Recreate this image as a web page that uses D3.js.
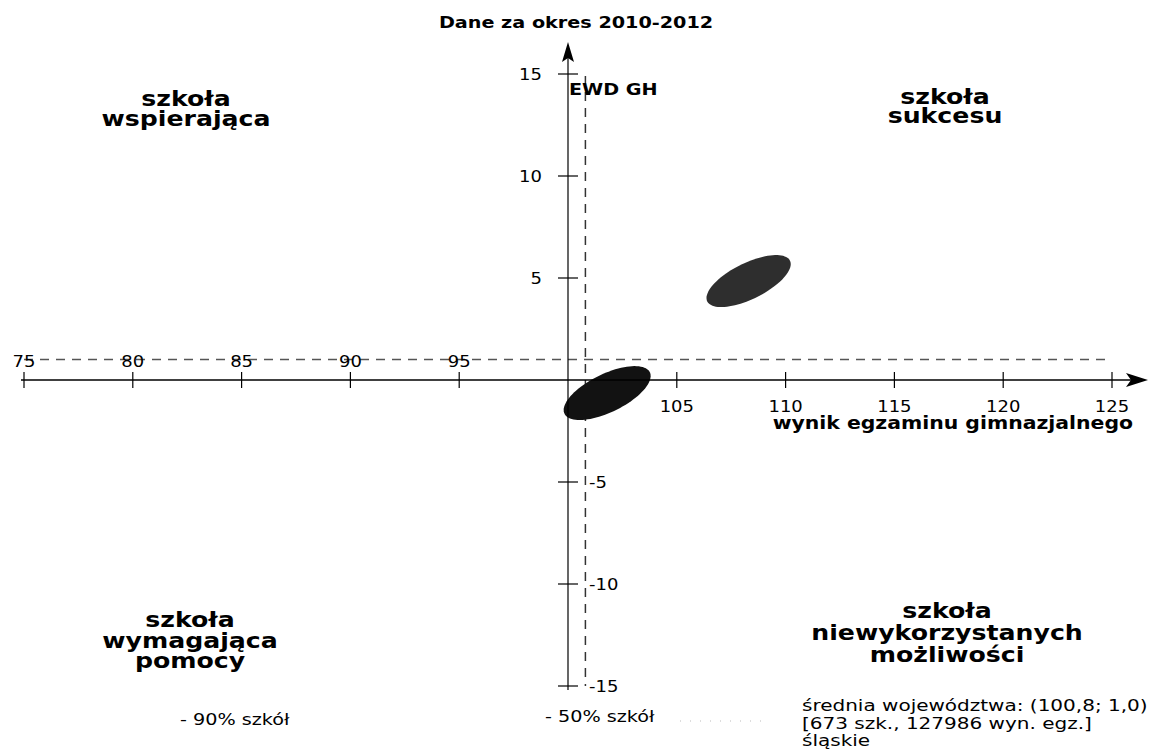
<!DOCTYPE html>
<html><head><meta charset="utf-8">
<script src="https://cdn.jsdelivr.net/npm/d3@7"></script>
<style>body{margin:0;background:#fff}svg{display:block}</style>
</head><body>
<svg id="c" width="1157" height="756"></svg>
<script>
// ---- data ----
const titleText = "Dane za okres 2010-2012";
const yAxisTitle = "EWD GH";
const xAxisTitle = "wynik egzaminu gimnazjalnego";
const xDomain = [75, 125];
const yDomain = [-15, 15];
const xTicksLeft = [75, 80, 85, 90, 95];
const xTicksRight = [105, 110, 115, 120, 125];
const yTicksPos = [5, 10, 15];
const yTicksNeg = [-5, -10, -15];
const meanX = 100.8;
const meanY = 1.0;
const ellipseCx = [101.8, 108.3];
const ellipseCy = [-0.64, 4.85];
const ellipseMajor = [[1.96, 1.02], [1.90, 1.00]];
const ellipseMinor = [[0.39, -0.84], [0.37, -0.79]];
const quadrantTL = ["szkoła", "wspierająca"];
const quadrantTR = ["szkoła", "sukcesu"];
const quadrantBL = ["szkoła", "wymagająca", "pomocy"];
const quadrantBR = ["szkoła", "niewykorzystanych", "możliwości"];
const legendLabels = ["- 90% szkół", "- 50% szkół"];
const meanInfo = ["średnia województwa: (100,8; 1,0)", "[673 szk., 127986 wyn. egz.]", "śląskie"];

// ---- drawing ----
const svg = d3.select("#c");
const FONT = "DejaVu Sans";
const SX = 1.2;
const x = d3.scaleLinear().domain(xDomain).range([24, 1112]);
const y = d3.scaleLinear().domain(yDomain).range([686, 74]);
const x0 = x(100), y0 = y(0);

function txt(px, py, s, size, weight, anchor, sx) {
  return svg.append("text")
    .attr("transform", `translate(${px},${py}) scale(${sx || SX},1)`)
    .attr("font-family", FONT).attr("font-size", size)
    .attr("font-weight", weight || "normal")
    .attr("text-anchor", anchor || "start")
    .attr("fill", "#000").text(s);
}

// dashed mean lines
svg.append("line").attr("x1", x(75)).attr("x2", x(125))
  .attr("y1", y(meanY)).attr("y2", y(meanY))
  .attr("stroke", "#555").attr("stroke-width", 1.5).attr("stroke-dasharray", "9,7");
svg.append("line").attr("x1", x(meanX)).attr("x2", x(meanX))
  .attr("y1", y(15) + 2).attr("y2", y(-15))
  .attr("stroke", "#333").attr("stroke-width", 1.5).attr("stroke-dasharray", "9,7");

// ellipses
const ell = d3.line().x(d => x(d[0])).y(d => y(d[1])).curve(d3.curveLinearClosed);
const fills = ["#121212", "#2e2e2e"];
ellipseCx.forEach((cx, i) => {
  const pts = d3.range(0, 90).map(k => {
    const t = k / 90 * 2 * Math.PI;
    return [cx + ellipseMajor[i][0] * Math.cos(t) + ellipseMinor[i][0] * Math.sin(t),
            ellipseCy[i] + ellipseMajor[i][1] * Math.cos(t) + ellipseMinor[i][1] * Math.sin(t)];
  });
  svg.append("path").attr("d", ell(pts)).attr("fill", fills[i]);
});

// x axis
svg.append("line").attr("x1", x(75) - 3).attr("x2", x(125) + 30)
  .attr("y1", y0).attr("y2", y0).attr("stroke", "#000").attr("stroke-width", 1.5);
svg.append("path")
  .attr("d", `M${x(125) + 36},${y0} L${x(125) + 14},${y0 - 7} L${x(125) + 19},${y0} L${x(125) + 14},${y0 + 7} Z`)
  .attr("fill", "#000");
// y axis
svg.append("line").attr("x1", x0).attr("x2", x0)
  .attr("y1", y(-15) + 4).attr("y2", y(15) - 18).attr("stroke", "#000").attr("stroke-width", 1.2);
svg.append("path")
  .attr("d", `M${x0},${y(15) - 32} L${x0 - 6},${y(15) - 12} L${x0},${y(15) - 16} L${x0 + 6},${y(15) - 12} Z`)
  .attr("fill", "#000");

// x ticks
svg.selectAll(".xt").data(xTicksLeft.concat(xTicksRight)).join("line")
  .attr("x1", d => x(d)).attr("x2", d => x(d))
  .attr("y1", y0 - 8).attr("y2", y0 + 8).attr("stroke", "#000").attr("stroke-width", 1.2);
xTicksLeft.forEach(v => txt(x(v), y0 - 13, String(v), 15, "normal", "middle"));
xTicksRight.forEach(v => txt(x(v), y0 + 32, String(v), 15, "normal", "middle"));

// y ticks
svg.selectAll(".yt").data(yTicksPos.concat(yTicksNeg)).join("line")
  .attr("x1", x0 - 10).attr("x2", x0 + 10)
  .attr("y1", d => y(d)).attr("y2", d => y(d)).attr("stroke", "#000").attr("stroke-width", 1.2);
yTicksPos.forEach(v => txt(x0 - 26, y(v) + 6, String(v), 15, "normal", "end"));
yTicksNeg.forEach(v => txt(x0 + 21, y(v) + 6, String(v), 15, "normal", "start"));

// titles
txt(576, 28, titleText, 16, "bold", "middle");
txt(x0 + 1, 95, yAxisTitle, 16, "bold", "start");
txt(1133, 429, xAxisTitle, 17, "bold", "end");

// quadrant labels
quadrantTL.forEach((s, i) => txt(186, 106 + i * 20, s, 21, "bold", "middle"));
quadrantTR.forEach((s, i) => txt(945, 104 + i * 19, s, 21, "bold", "middle"));
quadrantBL.forEach((s, i) => txt(190, 627 + i * 20.5, s, 21, "bold", "middle"));
quadrantBR.forEach((s, i) => txt(947, 618 + i * 22, s, 21, "bold", "middle"));

// legend
txt(180, 725, legendLabels[0], 16, "normal", "start");
txt(545, 722, legendLabels[1], 16, "normal", "start");
svg.append("line").attr("x1", 680).attr("x2", 770).attr("y1", 721).attr("y2", 721)
  .attr("stroke", "#bbb").attr("stroke-width", 1.2).attr("stroke-dasharray", "1,9");
meanInfo.forEach((s, i) => txt(802, 711 + i * 17.5, s, 16, "normal", "start", 1.25));
</script>
</body></html>
